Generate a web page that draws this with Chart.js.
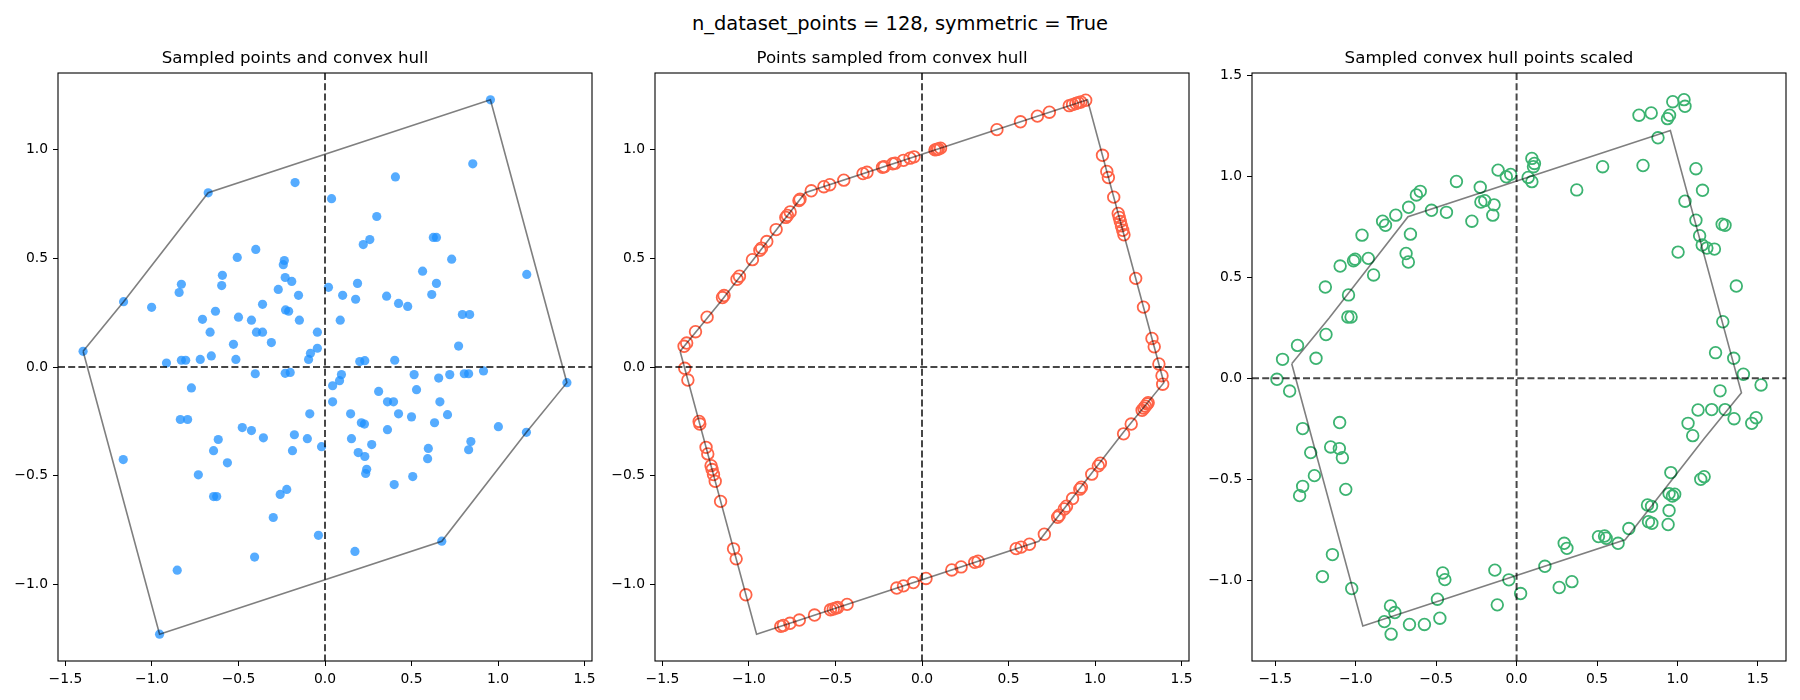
<!DOCTYPE html>
<html>
<head>
<meta charset="utf-8">
<script src="https://cdn.jsdelivr.net/npm/chart.js@4.4.1/dist/chart.umd.min.js"></script>
<style>
  body { margin: 0; background: #fff; width: 1800px; height: 700px; overflow: hidden; font-family: "DejaVu Sans", sans-serif; }
  #suptitle { position: absolute; left: 0; top: 13.5px; width: 1800px; text-align: center; font-size: 19.44px; line-height: 1; color: #000; }
  .panel { position: absolute; top: 30px; }
</style>
</head>
<body>
<div id="suptitle">n_dataset_points = 128, symmetric = True</div>
<div class="panel" style="left:-2px"><canvas id="c1" width="619" height="666"></canvas></div>
<div class="panel" style="left:595px"><canvas id="c2" width="619" height="666"></canvas></div>
<div class="panel" style="left:1192px"><canvas id="c3" width="619" height="666"></canvas></div>
<script>
// convex hull vertices (closed)
var hull = [[-1.398, 0.072], [-1.164, 0.300], [-0.675, 0.800], [0.956, 1.227], [1.398, -0.072],
  [1.164, -0.300], [0.675, -0.800], [-0.956, -1.227], [-1.398, 0.072]];

// panel 1: sampled dataset points
var sampledPts = [
  [0.956, 1.227], [-0.956, -1.227], [0.854, 0.933], [-0.854, -0.933], [0.407, 0.873], [-0.407, -0.873],
  [-0.173, 0.847], [0.173, -0.847], [0.038, 0.773], [-0.038, -0.773], [-0.675, 0.800], [0.675, -0.800],
  [0.299, 0.691], [-0.299, -0.691], [0.626, 0.595], [-0.626, -0.595], [0.644, 0.595], [-0.644, -0.595],
  [0.259, 0.585], [-0.259, -0.585], [0.221, 0.562], [-0.221, -0.562], [0.732, 0.495], [-0.732, -0.495],
  [-0.400, 0.540], [0.400, -0.540], [-0.507, 0.503], [0.507, -0.503], [-0.235, 0.489], [0.235, -0.489],
  [-0.241, 0.470], [0.241, -0.470], [0.564, 0.440], [-0.564, -0.440], [1.166, 0.425], [-1.166, -0.425],
  [-0.593, 0.421], [0.593, -0.421], [-0.230, 0.411], [0.230, -0.411], [-0.192, 0.393], [0.192, -0.393],
  [-0.830, 0.380], [0.830, -0.380], [0.188, 0.384], [-0.188, -0.384], [0.644, 0.384], [-0.644, -0.384],
  [-0.597, 0.374], [0.597, -0.374], [0.020, 0.366], [-0.020, -0.366], [-0.843, 0.342], [0.843, -0.342],
  [-0.270, 0.356], [0.270, -0.356], [-0.153, 0.329], [0.153, -0.329], [0.617, 0.333], [-0.617, -0.333],
  [0.102, 0.329], [-0.102, -0.329], [0.356, 0.325], [-0.356, -0.325], [0.177, 0.311], [-0.177, -0.311],
  [-1.164, 0.300], [1.164, -0.300], [0.425, 0.292], [-0.425, -0.292], [0.478, 0.278], [-0.478, -0.278],
  [-0.361, 0.288], [0.361, -0.288], [-1.002, 0.274], [1.002, -0.274], [-0.633, 0.256], [0.633, -0.256],
  [-0.228, 0.262], [0.228, -0.262], [-0.210, 0.256], [0.210, -0.256], [0.794, 0.241], [-0.794, -0.241],
  [0.836, 0.241], [-0.836, -0.241], [-0.500, 0.229], [0.500, -0.229], [-0.708, 0.219], [0.708, -0.219],
  [-0.425, 0.215], [0.425, -0.215], [-0.148, 0.215], [0.148, -0.215], [0.088, 0.215], [-0.088, -0.215],
  [-0.664, 0.160], [0.664, -0.160], [-0.396, 0.160], [0.396, -0.160], [-0.361, 0.160], [0.361, -0.160],
  [-0.044, 0.160], [0.044, -0.160], [-0.310, 0.112], [0.310, -0.112], [-0.529, 0.104], [0.529, -0.104],
  [0.772, 0.096], [-0.772, -0.096], [-0.044, 0.086], [0.044, -0.086], [-0.084, 0.063], [0.084, -0.063],
  [-1.398, 0.072], [1.398, -0.072], [-0.657, 0.051], [0.657, -0.051], [-0.095, 0.035], [0.095, -0.035],
  [-0.830, 0.031], [0.830, -0.031], [-0.805, 0.031], [0.805, -0.031], [-0.721, 0.035], [0.721, -0.035],
  [-0.515, 0.035], [0.515, -0.035], [0.403, 0.031], [-0.403, -0.031], [0.201, 0.025], [-0.201, -0.025],
  [0.230, 0.029], [-0.230, -0.029], [-0.916, 0.018], [0.916, -0.018]
];

// panel 2: points sampled on the hull
var hullPts = [
  [-1.375, 0.095], [-1.360, 0.110], [-1.309, 0.162], [-1.242, 0.229], [-1.153, 0.319], [-1.144, 0.328],
  [-1.069, 0.403], [-1.055, 0.417], [-0.980, 0.493], [-0.937, 0.536], [-0.927, 0.546], [-0.897, 0.576],
  [-0.843, 0.631], [-0.787, 0.687], [-0.778, 0.696], [-0.762, 0.712], [-0.711, 0.764], [-0.705, 0.770],
  [-0.640, 0.809], [-0.567, 0.828], [-0.533, 0.837], [-0.452, 0.858], [-0.341, 0.888], [-0.318, 0.894],
  [-0.228, 0.917], [-0.218, 0.920], [-0.169, 0.933], [-0.155, 0.936], [-0.107, 0.949], [-0.069, 0.959],
  [-0.046, 0.965], [0.075, 0.997], [0.085, 0.999], [0.094, 1.001], [0.107, 1.005], [0.433, 1.090],
  [0.569, 1.126], [0.667, 1.152], [0.736, 1.170], [0.851, 1.200], [0.870, 1.205], [0.889, 1.210],
  [0.904, 1.214], [0.918, 1.217], [0.946, 1.225],
  [1.043, 0.972], [1.068, 0.898], [1.077, 0.870], [1.108, 0.780], [1.134, 0.705], [1.140, 0.687],
  [1.146, 0.668], [1.153, 0.648], [1.160, 0.628], [1.167, 0.607], [1.235, 0.407], [1.280, 0.275],
  [1.329, 0.131], [1.342, 0.093], [1.369, 0.014], [1.387, -0.040],
  [1.391, -0.079], [1.307, -0.164], [1.301, -0.170], [1.291, -0.180], [1.282, -0.189], [1.272, -0.199],
  [1.209, -0.262], [1.165, -0.307], [1.031, -0.442], [1.019, -0.454], [0.981, -0.492], [0.921, -0.552],
  [0.912, -0.561], [0.870, -0.604], [0.835, -0.639], [0.822, -0.652], [0.793, -0.681], [0.784, -0.690],
  [0.707, -0.768],
  [0.621, -0.814], [0.573, -0.827], [0.544, -0.834], [0.324, -0.892], [0.305, -0.897], [0.226, -0.918],
  [0.172, -0.932], [0.023, -0.971], [-0.050, -0.990], [-0.107, -1.005], [-0.146, -1.015], [-0.433, -1.090],
  [-0.487, -1.104], [-0.498, -1.107], [-0.513, -1.111], [-0.529, -1.115], [-0.621, -1.139], [-0.709, -1.162],
  [-0.763, -1.177], [-0.801, -1.187], [-0.816, -1.191],
  [-1.371, -0.006], [-1.353, -0.060], [-1.288, -0.250], [-1.284, -0.262], [-1.248, -0.369], [-1.238, -0.399],
  [-1.219, -0.453], [-1.213, -0.471], [-1.205, -0.494], [-1.195, -0.525], [-1.164, -0.617], [-1.089, -0.835],
  [-1.074, -0.881], [-1.018, -1.046]
];

// panel 3: hull points scaled
var scaledPts = [
  [-1.490, -0.005], [-1.455, 0.094], [-1.362, 0.163], [-1.247, 0.099], [-1.185, 0.217], [-1.189, 0.452],
  [-1.049, 0.304], [-1.029, 0.304], [-1.045, 0.413], [-1.097, 0.556], [-1.014, 0.582], [-1.004, 0.590],
  [-0.922, 0.594], [-0.889, 0.512], [-0.961, 0.709], [-0.833, 0.778], [-0.815, 0.758], [-0.751, 0.808],
  [-0.671, 0.847], [-0.660, 0.714], [-0.687, 0.618], [-0.673, 0.576], [-0.623, 0.908], [-0.599, 0.926],
  [-0.529, 0.832], [-0.436, 0.822], [-0.374, 0.975], [-0.278, 0.778], [-0.226, 0.946], [-0.222, 0.873],
  [-0.198, 0.880], [-0.140, 0.859], [-0.148, 0.808], [-0.115, 1.031], [-0.064, 0.998], [-0.037, 1.010],
  [0.072, 0.995], [0.095, 0.974], [0.095, 1.089], [0.111, 1.064], [0.105, 1.048], [0.374, 0.933],
  [0.535, 1.048], [0.786, 1.054], [0.761, 1.303], [0.837, 1.314], [0.879, 1.191], [0.938, 1.286],
  [0.951, 1.303], [0.971, 1.370], [1.041, 1.380], [1.047, 1.347], [1.115, 1.038], [1.156, 0.931],
  [1.047, 0.877], [1.115, 0.783], [1.278, 0.763], [1.296, 0.758], [1.138, 0.706], [1.154, 0.660],
  [1.183, 0.645], [1.230, 0.640], [1.004, 0.625], [1.366, 0.457], [1.282, 0.280], [1.237, 0.127],
  [1.350, 0.099], [1.410, 0.020], [1.520, -0.033],
  [-1.411, -0.063], [-1.330, -0.249], [-1.100, -0.219], [-1.156, -0.340], [-1.102, -0.348], [-1.280, -0.368],
  [-1.083, -0.393], [-1.257, -0.482], [-1.330, -0.535], [-1.349, -0.581], [-1.062, -0.550], [-1.145, -0.873],
  [-1.207, -0.982], [-1.025, -1.041], [-0.784, -1.127], [-0.757, -1.160], [-0.822, -1.205], [-0.780, -1.267],
  [-0.666, -1.219], [-0.573, -1.219], [-0.477, -1.188], [-0.492, -1.094], [-0.459, -0.964], [-0.446, -0.997],
  [-0.135, -0.950], [-0.048, -0.998], [-0.120, -1.122], [0.025, -1.066],
  [0.176, -0.931], [0.296, -0.817], [0.313, -0.842], [0.265, -1.036], [0.344, -1.007], [0.509, -0.784],
  [0.547, -0.781], [0.557, -0.792], [0.631, -0.817], [0.698, -0.744], [0.814, -0.627], [0.839, -0.634],
  [0.820, -0.710], [0.841, -0.718], [0.948, -0.655], [0.942, -0.724], [0.948, -0.571], [0.969, -0.583],
  [0.983, -0.574], [0.959, -0.467], [1.145, -0.500], [1.166, -0.487], [1.066, -0.223], [1.095, -0.284],
  [1.128, -0.157], [1.213, -0.155], [1.296, -0.155], [1.265, -0.062], [1.352, -0.200], [1.462, -0.223],
  [1.489, -0.195]
];

var xTicks = [-1.5, -1.0, -0.5, 0.0, 0.5, 1.0, 1.5];
var yTicks12 = [-1.0, -0.5, 0.0, 0.5, 1.0];
var yTicks3 = [-1.0, -0.5, 0.0, 0.5, 1.0, 1.5];

var FONT = "DejaVu Sans";

function fmt(v) {
  return (v < 0 ? "\u2212" : "") + Math.abs(v).toFixed(1);
}

function toXY(arr) {
  return arr.map(function (p) { return { x: p[0], y: p[1] }; });
}

function axis(pos, min, max, ticks) {
  return {
    type: "linear",
    position: pos,
    min: min,
    max: max,
    afterBuildTicks: function (s) { s.ticks = ticks.map(function (v) { return { value: v }; }); },
    afterFit: function (s) { if (pos === "left") s.width = 60; else s.height = 35; },
    ticks: {
      color: "#000",
      font: { family: FONT, size: 13.89 },
      padding: 5,
      maxRotation: 0,
      autoSkip: false,
      callback: function (v) { return fmt(v); }
    },
    grid: { drawOnChartArea: false, drawTicks: true, tickLength: 5, color: "#000", lineWidth: 1 },
    border: { display: false }
  };
}

// zero lines and the axes frame
var frame = {
  id: "frame",
  afterDatasetsDraw: function (chart) {
    var ctx = chart.ctx, a = chart.chartArea;
    var x0 = chart.scales.x.getPixelForValue(0);
    var y0 = chart.scales.y.getPixelForValue(0);
    ctx.save();
    ctx.strokeStyle = "rgba(0,0,0,0.72)";
    ctx.lineWidth = 2;
    ctx.setLineDash([7, 3.2]);
    ctx.beginPath();
    ctx.moveTo(a.left, y0); ctx.lineTo(a.right, y0);
    ctx.moveTo(x0, a.top); ctx.lineTo(x0, a.bottom);
    ctx.stroke();
    ctx.setLineDash([]);
    ctx.strokeStyle = "#000";
    ctx.lineWidth = 1.1;
    ctx.strokeRect(a.left, a.top, a.right - a.left, a.bottom - a.top);
    ctx.restore();
  }
};

function makeChart(id, title, pts, pointStyle, xr, yr, yTicks) {
  var hullSet = {
    data: toXY(hull),
    showLine: true,
    borderColor: "rgba(0,0,0,0.5)",
    borderWidth: 1.6,
    pointRadius: 0,
    tension: 0
  };
  var ptSet = Object.assign({ data: toXY(pts), showLine: false }, pointStyle);
  new Chart(document.getElementById(id), {
    type: "scatter",
    data: { datasets: [hullSet, ptSet] },
    options: {
      responsive: false,
      animation: false,
      layout: { padding: { left: 0, right: 25, top: 0, bottom: 0 } },
      plugins: {
        legend: { display: false },
        tooltip: { enabled: false },
        title: {
          display: true,
          text: title,
          color: "#000",
          font: { family: FONT, size: 16.67, weight: "normal", lineHeight: 1.2 },
          padding: { top: 18.5, bottom: 4.5 }
        }
      },
      scales: {
        x: axis("bottom", xr[0], xr[1], xTicks),
        y: axis("left", yr[0], yr[1], yTicks)
      }
    },
    plugins: [frame]
  });
}

makeChart("c1", "Sampled points and convex hull", sampledPts,
  { pointRadius: 4.6, backgroundColor: "rgba(30,144,255,0.75)", borderWidth: 0 },
  [-1.543, 1.543], [-1.35, 1.35], yTicks12);

makeChart("c2", "Points sampled from convex hull", hullPts,
  { pointRadius: 5.8, backgroundColor: "rgba(0,0,0,0)", borderColor: "#ff6347", borderWidth: 1.8 },
  [-1.543, 1.543], [-1.35, 1.35], yTicks12);

makeChart("c3", "Sampled convex hull points scaled", scaledPts,
  { pointRadius: 5.8, backgroundColor: "rgba(0,0,0,0)", borderColor: "#3cb371", borderWidth: 1.8 },
  [-1.645, 1.675], [-1.40, 1.512], yTicks3);
</script>
</body>
</html>
